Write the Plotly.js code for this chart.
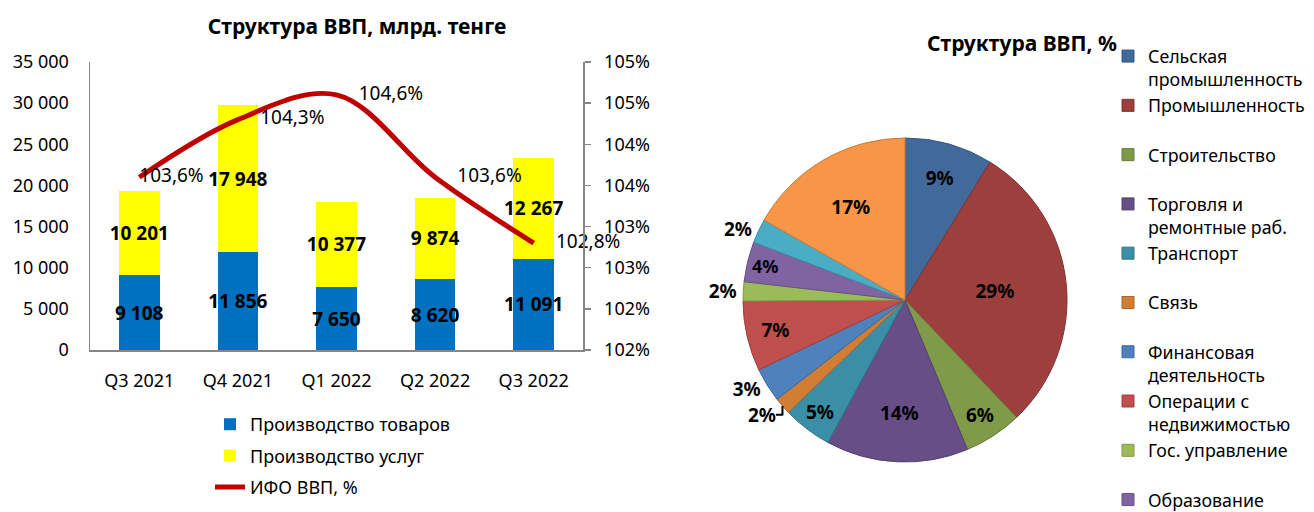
<!DOCTYPE html>
<html>
<head>
<meta charset="utf-8">
<script src="https://cdn.plot.ly/plotly-3.0.1.min.js"></script>
<style>html,body{margin:0;padding:0;background:#fff;}#chart{width:1314px;height:512px;}</style>
</head>
<body>
<div id="chart"></div>
<script>
// ---- Data ----
const quarters = ["Q3 2021", "Q4 2021", "Q1 2022", "Q2 2022", "Q3 2022"];
const goods = [9108, 11856, 7650, 8620, 11091];
const services = [10201, 17948, 10377, 9874, 12267];
const ifo = [103.6, 104.3, 104.6, 103.6, 102.8];

const sectors = ["Сельская<br>промышленность", "Промышленность<br> ", "Строительство<br> ",
  "Торговля и<br>ремонтные раб.", "Транспорт<br> ", "Связь<br> ", "Финансовая<br>деятельность",
  "Операции с<br>недвижимостью", "Гос. управление<br> ", "Образование<br> ",
  "Здравоохранение<br> ", "Прочие услуги<br> "];
const shares = [8.8, 29.1, 5.8, 14.2, 4.9, 1.7, 3.4, 7.0, 1.9, 4.0, 2.4, 16.8];

const FONT = "Noto Sans, Open Sans, sans-serif";
const pieColors = ["#41699A", "#9C3F3D", "#7F9A48", "#674E87", "#3A8EA5", "#D27D34",
  "#4F81BD", "#C0504D", "#9BBB59", "#8064A2", "#4BACC6", "#F79646"];
const pieLines = ["#35577F", "#7F3231", "#667C3A", "#533F6E", "#2F7386", "#AA6529",
  "#3E689A", "#9C3F3D", "#7E9A47", "#675184", "#3C8CA2", "#C97A39"];

const traces = [
  {
    type: "bar", name: "Производство товаров", x: quarters, y: goods,
    marker: {color: "#0070C0"}, legend: "legend", legendgroup: "a",
    texttemplate: "%{y:,.0f}", textposition: "inside", insidetextanchor: "middle",
    constraintext: "none", textangle: 0, cliponaxis: false,
    textfont: {family: FONT, size: 19, color: "#000", weight: "bold"}
  },
  {
    type: "bar", name: "Производство услуг", x: quarters, y: services,
    marker: {color: "#FFFF00"}, legend: "legend", legendgroup: "b",
    texttemplate: "%{y:,.0f}", textposition: "inside", insidetextanchor: "middle",
    constraintext: "none", textangle: 0, cliponaxis: false,
    textfont: {family: FONT, size: 19, color: "#000", weight: "bold"}
  },
  {
    type: "scatter", mode: "lines+markers+text", name: "ИФО ВВП, %", x: quarters, y: ifo,
    yaxis: "y2", legend: "legend", legendgroup: "c", cliponaxis: false,
    line: {color: "#C00000", width: 5, shape: "spline", smoothing: 1},
    marker: {size: [0, 34, 34, 34, 34], opacity: 0, color: "rgba(0,0,0,0)", line: {width: 0}},
    texttemplate: "%{y:.1f}%", textposition: "middle right",
    textfont: {family: FONT, size: 19, color: "#000"}
  },
  {
    type: "pie", labels: sectors, values: shares, sort: false, direction: "clockwise", rotation: 0,
    domain: {x: [743/1314, 1067/1314], y: [1 - 462/512, 1 - 138/512]},
    marker: {colors: pieColors, line: {color: pieLines, width: 1}},
    legend: "legend2",
    texttemplate: "%{percent:.0%}",
    textposition: ["inside", "inside", "inside", "inside", "inside", "outside", "outside", "inside", "outside", "inside", "outside", "inside"],
    insidetextorientation: "horizontal",
    textfont: {family: FONT, size: 19, color: "#000", weight: "bold"},
    insidetextfont: {family: FONT, size: 19, color: "#000", weight: "bold"},
    outsidetextfont: {family: FONT, size: 19, color: "#000", weight: "bold"}
  }
];

const axisGray = "#868686";
const layout = {
  width: 1314, height: 512,
  margin: {l: 0, r: 0, t: 0, b: 0},
  paper_bgcolor: "#fff", plot_bgcolor: "rgba(0,0,0,0)",
  font: {family: FONT, size: 18, color: "#000"},
  separators: ", ",
  barmode: "stack", bargap: 0.59,
  showlegend: true,
  title: {text: "<b>Структура ВВП, млрд. тенге</b>", x: 357/1314, xanchor: "center",
          y: 1 - 27/512, yanchor: "middle", font: {family: FONT, size: 21, color: "#000"}},
  annotations: [{
    text: "<b>Структура ВВП, %</b>", xref: "paper", yref: "paper",
    x: 1022/1314, y: 1 - 43/512, xanchor: "center", yanchor: "middle", showarrow: false,
    font: {family: FONT, size: 21, color: "#000"}
  }],
  xaxis: {
    type: "category", domain: [90/1314, 583/1314], anchor: "y",
    showline: true, linecolor: axisGray, linewidth: 1.5, ticks: "", showgrid: false,
    ticklabelstandoff: 14, tickfont: {family: FONT, size: 18, color: "#000"}
  },
  yaxis: {
    domain: [1 - 350/512, 1 - 62/512], range: [0, 35000], dtick: 5000, tickformat: ",.0f",
    showline: true, linecolor: axisGray, linewidth: 1.5, ticks: "", showgrid: false, zeroline: false,
    ticklabelstandoff: 16, tickfont: {family: FONT, size: 18, color: "#000"}
  },
  yaxis2: {
    overlaying: "y", side: "right", anchor: "x", range: [101.5, 105], dtick: 0.5,
    tickformat: ".0f", ticksuffix: "%",
    showline: true, linecolor: axisGray, linewidth: 1.5, ticks: "outside", ticklen: 6,
    tickcolor: axisGray, tickwidth: 1.5, showgrid: false, zeroline: false,
    ticklabelstandoff: 10, tickfont: {family: FONT, size: 18, color: "#000"}
  },
  legend: {
    x: 210/1314, xanchor: "left", y: 1 - 406/512, yanchor: "top",
    traceorder: "grouped", tracegroupgap: 5, bgcolor: "rgba(0,0,0,0)",
    font: {family: FONT, size: 18, color: "#000"}
  },
  legend2: {
    x: 1108/1314, xanchor: "left", y: 1 - 38/512, yanchor: "top",
    valign: "top", bgcolor: "rgba(0,0,0,0)", maxheight: 474,
    font: {family: FONT, size: 17.8, color: "#000"}
  }
};

Plotly.newPlot("chart", traces, layout, {displayModeBar: false, staticPlot: true});
</script>
</body>
</html>
